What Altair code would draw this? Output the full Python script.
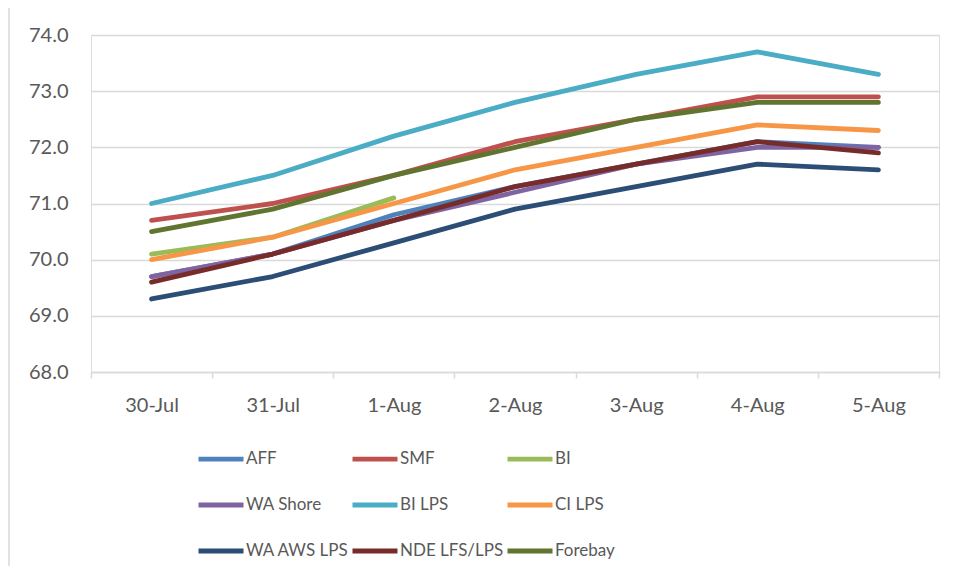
import altair as alt
import pandas as pd

dates = ["30-Jul", "31-Jul", "1-Aug", "2-Aug", "3-Aug", "4-Aug", "5-Aug"]
series = ["AFF", "SMF", "BI", "WA Shore", "BI LPS", "CI LPS",
          "WA AWS LPS", "NDE LFS/LPS", "Forebay"]
colors = ["#4F81BD", "#C0504D", "#9BBB59", "#8064A2", "#4BACC6",
          "#F79646", "#2C4D75", "#772C2A", "#5F7530"]

aff = [69.7, 70.1, 70.8, 71.3, 71.7, 72.1, 72.0]
smf = [70.7, 71.0, 71.5, 72.1, 72.5, 72.9, 72.9]
bi = [70.1, 70.4, 71.1]
wa_shore = [69.7, 70.1, 70.7, 71.2, 71.7, 72.0, 72.0]
bi_lps = [71.0, 71.5, 72.2, 72.8, 73.3, 73.7, 73.3]
ci_lps = [70.0, 70.4, 71.0, 71.6, 72.0, 72.4, 72.3]
wa_aws_lps = [69.3, 69.7, 70.3, 70.9, 71.3, 71.7, 71.6]
nde_lfs_lps = [69.6, 70.1, 70.7, 71.3, 71.7, 72.1, 71.9]
forebay = [70.5, 70.9, 71.5, 72.0, 72.5, 72.8, 72.8]

values = [aff, smf, bi, wa_shore, bi_lps, ci_lps, wa_aws_lps, nde_lfs_lps, forebay]

rows = []
for i, (name, vals) in enumerate(zip(series, values)):
    for d, v in zip(dates, vals):
        rows.append({"date": d, "series": name, "value": v, "order": i})
df = pd.DataFrame(rows)

FONT = "Lato"
TXT = "#595959"
GRID = "#d9d9d9"

W, H = 848, 337
BOTTOM = 194

lines = alt.Chart(df).mark_line(
    strokeWidth=4.8, strokeCap="round", strokeJoin="round"
).encode(
    x=alt.X("date:N", sort=dates,
            scale=alt.Scale(paddingInner=0, paddingOuter=0),
            axis=alt.Axis(title=None, labelAngle=0, tickBand="extent",
                          tickSize=6, tickColor=GRID, tickWidth=1.5,
                          domainColor=GRID, domainWidth=1.5,
                          labelFont=FONT, labelFontSize=20, labelColor=TXT,
                          labelPadding=17, grid=False)),
    y=alt.Y("value:Q",
            scale=alt.Scale(domain=[68, 74], nice=False, zero=False),
            axis=alt.Axis(title=None, values=[68, 69, 70, 71, 72, 73, 74],
                          format=".1f", ticks=False, tickSize=0, domain=False,
                          gridColor=GRID, gridWidth=1.5,
                          labelFont=FONT, labelFontSize=20, labelColor=TXT,
                          labelPadding=23)),
    color=alt.Color("series:N",
                    scale=alt.Scale(domain=series, range=colors),
                    legend=alt.Legend(title=None, orient="none",
                                      direction="horizontal",
                                      legendX=105, legendY=399,
                                      columns=3, symbolType="stroke",
                                      symbolSize=2025, symbolStrokeWidth=4.8,
                                      labelFont=FONT, labelFontSize=17,
                                      labelColor=TXT, labelOffset=0,
                                      columnPadding=-7, rowPadding=11,
                                      gridAlign="each", padding=0,
                                      labelLimit=300)),
    order=alt.Order("order:Q"),
    detail="series:N",
)

frame = alt.Chart(alt.Data(values=[{}])).mark_rule(
    color=GRID, strokeWidth=1.5
).encode(x=alt.value(-82), y=alt.value(-27), y2=alt.value(H + BOTTOM))

chart = alt.layer(lines, frame).properties(
    width=W, height=H,
    autosize=alt.AutoSizeParams(type="none"),
    padding={"left": 83, "top": 27, "right": 11, "bottom": BOTTOM},
).configure_view(stroke=None).configure(background="white")

chart.save("out.html", embed_options={"renderer": "svg", "actions": False})
